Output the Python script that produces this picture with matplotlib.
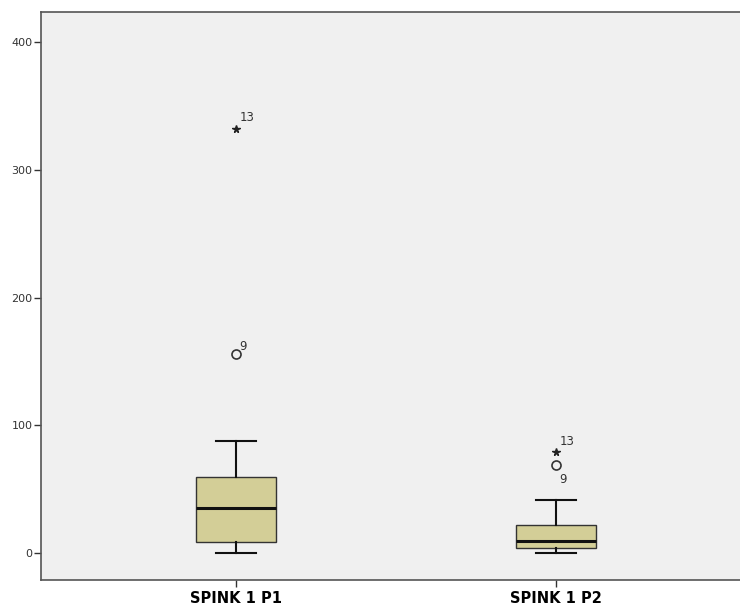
import matplotlib.pyplot as plt

# box statistics
groups = ["SPINK 1 P1", "SPINK 1 P2"]
q1 = [8.5, 4.0]
medians = [35.0, 9.5]
q3 = [59.5, 22.0]
whislo = [0.0, 0.5]
whishi = [88.0, 42.0]

# outliers: circles (mild) and stars (extreme), with case numbers
mild_vals = [156.0, 69.0]
mild_ids = ["9", "9"]
extreme_vals = [332.0, 79.0]
extreme_ids = ["13", "13"]

yticks = [0, 100, 200, 300, 400]

fig = plt.figure(figsize=(7.4, 6.14), dpi=100)
ax = fig.add_axes([0.0554, 0.0554, 0.9446, 0.9246])
ax.set_facecolor("#F0F0F0")

stats = []
for i in range(len(groups)):
    stats.append({"label": groups[i], "q1": q1[i], "med": medians[i], "q3": q3[i],
                  "whislo": whislo[i], "whishi": whishi[i], "fliers": []})

positions = [1, 2]
ax.bxp(stats, positions=positions, widths=0.25, patch_artist=True, showfliers=False,
       boxprops=dict(facecolor="#D3CE97", edgecolor="#333333", linewidth=1.0),
       medianprops=dict(color="#111111", linewidth=2.2),
       whiskerprops=dict(color="#111111", linewidth=1.5),
       capprops=dict(color="#111111", linewidth=1.5),
       capwidths=0.125)

# mild outliers
ax.plot(positions, mild_vals, linestyle="none", marker="o", markersize=6.5,
        markerfacecolor="none", markeredgecolor="#333333", markeredgewidth=1.2)
# extreme outliers
ax.plot(positions, extreme_vals, linestyle="none", marker="*", markersize=5.5,
        color="#222222")

# case labels
ax.text(positions[0] + 0.01, extreme_vals[0] + 6, extreme_ids[0], fontsize=8.5, color="#333333")
ax.text(positions[0] + 0.01, mild_vals[0] + 3, mild_ids[0], fontsize=8.5, color="#333333")
ax.text(positions[1] + 0.01, extreme_vals[1] + 6, extreme_ids[1], fontsize=8.5, color="#333333")
ax.text(positions[1] + 0.01, mild_vals[1] - 14, mild_ids[1], fontsize=8.5, color="#333333")

ax.set_xlim(0.39, 2.575)
ax.set_ylim(-21, 423.5)
ax.set_yticks(yticks)
ax.set_yticklabels([str(t) for t in yticks], fontsize=8, color="#333333")
ax.set_xticks(positions)
ax.set_xticklabels(groups, fontsize=10.5, fontweight="bold", color="black")
ax.tick_params(axis="y", length=5, width=1, color="#333333", pad=1)
ax.tick_params(axis="x", length=5, width=1, color="#333333", pad=3)

for side in ["left", "top", "bottom"]:
    ax.spines[side].set_color("#555555")
    ax.spines[side].set_linewidth(1.2)
ax.spines["right"].set_visible(False)

fig.savefig("out.png", dpi=100, facecolor="white")
